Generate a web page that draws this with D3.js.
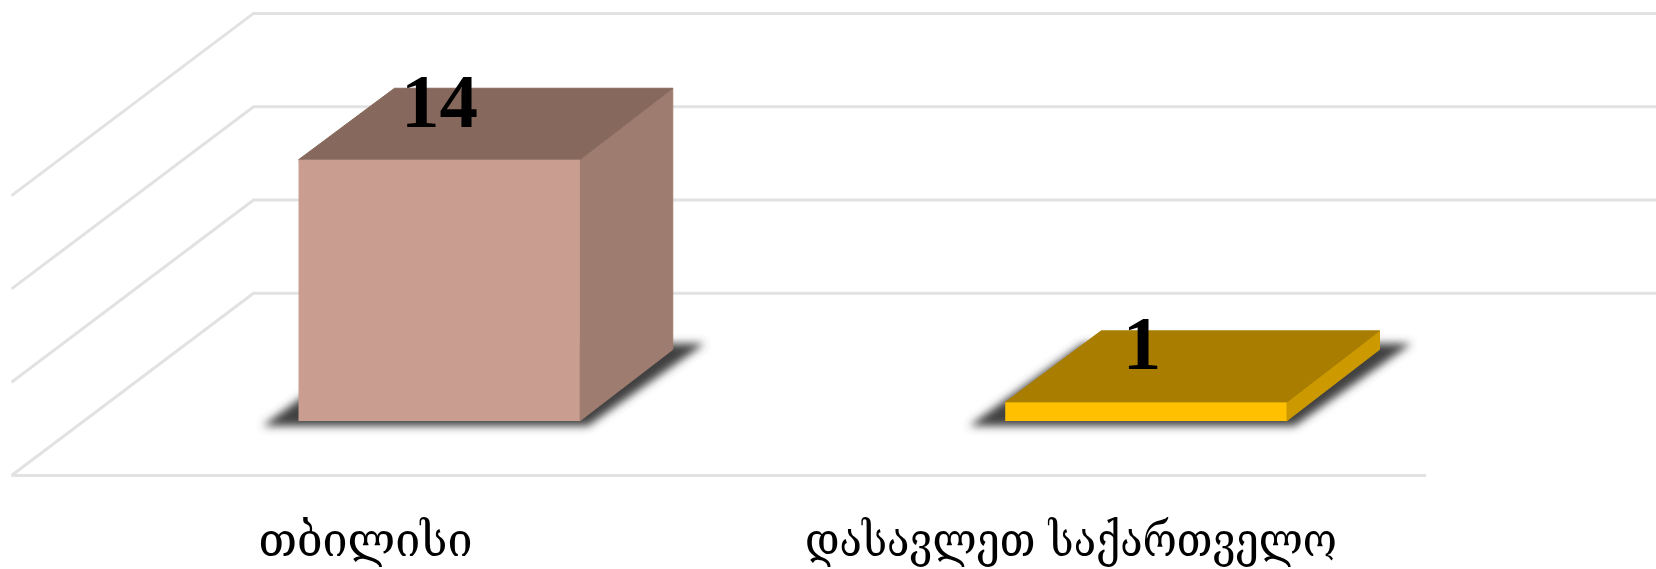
<!DOCTYPE html>
<html><head><meta charset="utf-8">
<script src="https://cdn.jsdelivr.net/npm/d3@7"></script>
<style>html,body{margin:0;padding:0;background:#fff;overflow:hidden}svg{display:block}</style>
</head><body>
<script>
const categories = ["თბილისი", "დასავლეთ საქართველო"];
const values = [14, 1];
const frontColors = ["#C99E91", "#FFC000"];
const topColors = ["#86695C", "#A97E00"];
const sideColors = ["#9F7C6F", "#CC9A00"];
const gridTicks = [0, 5, 10, 15];

const W = 1656, H = 569;
const svg = d3.select("body").append("svg").attr("width", W).attr("height", H);
const defs = svg.append("defs");
defs.append("filter").attr("id","soft").attr("x","-5%").attr("y","-5%").attr("width","110%").attr("height","110%")
  .append("feGaussianBlur").attr("stdDeviation",0.7);
defs.append("filter").attr("id","textsoft").attr("x","-5%").attr("y","-5%").attr("width","110%").attr("height","110%")
  .append("feGaussianBlur").attr("stdDeviation",0.4);
defs.append("filter").attr("id","shadow").attr("x","-10%").attr("y","-20%").attr("width","120%").attr("height","140%")
  .append("feGaussianBlur").attr("stdDeviation",4);

// Scales
const wallY = d3.scaleLinear().domain([0,15]).range([293.3,13.4]);
const heightOf = v => wallY(0) - wallY(v);
const x = d3.scaleBand().domain(categories).range([86.5,1498.5]).paddingInner(.602).paddingOuter(.3);
const floorFrontY = 475.5, floorDX = 242, floorDY = floorFrontY - wallY(0);
const leftX = 11.5, backX = leftX + floorDX, frontRight = 1426, backRight = frontRight + floorDX;
const barBase = 421, depthXL = 96, depthXR = 93, depthY = 71.5;
const line = d3.line();

// Gridlines
const grid = svg.append("g").attr("fill","none").attr("stroke","#E2E2E2").attr("stroke-width",3).attr("filter","url(#soft)");
grid.selectAll("path.wall").data(gridTicks).join("path").attr("class","wall")
  .attr("d", t => line([[leftX, wallY(t)+floorDY],[backX, wallY(t)],[backRight, wallY(t)]]));
grid.append("path").attr("d", line([[leftX, floorFrontY],[frontRight, floorFrontY]]));

// Shadows
svg.append("g").attr("filter","url(#shadow)").attr("fill","#404040").selectAll("path").data(categories).join("path")
  .attr("d", c => { const l = x(c), r = l + x.bandwidth();
    return line([[l-36, barBase+5],[r+8, barBase+5],[r+depthXR+32, barBase-depthY-6],[l+depthXL-18, barBase-depthY-6]])+"Z"; });

// Bars
const bars = svg.append("g").attr("filter","url(#soft)").selectAll("g").data(categories).join("g");
bars.append("path").attr("fill",(c,i)=>sideColors[i]).attr("stroke",(c,i)=>sideColors[i]).attr("stroke-linejoin","round")
  .attr("d",(c,i)=>{ const r=x(c)+x.bandwidth(), t=barBase-heightOf(values[i]);
    return line([[r,barBase],[r+depthXR,barBase-depthY],[r+depthXR,t-depthY],[r,t]])+"Z"; });
bars.append("path").attr("fill",(c,i)=>topColors[i]).attr("stroke",(c,i)=>topColors[i]).attr("stroke-linejoin","round")
  .attr("d",(c,i)=>{ const l=x(c), r=l+x.bandwidth(), t=barBase-heightOf(values[i]);
    return line([[l,t],[r,t],[r+depthXR,t-depthY],[l+depthXL,t-depthY]])+"Z"; });
bars.append("rect").attr("fill",(c,i)=>frontColors[i])
  .attr("x",c=>x(c)).attr("width",x.bandwidth())
  .attr("y",(c,i)=>barBase-heightOf(values[i])).attr("height",(c,i)=>heightOf(values[i]));

// Value labels
const valueCenter = [439.5, 1142];
const valueBaseline = [127, 368.5];
svg.append("g").attr("filter","url(#textsoft)").selectAll("text").data(values).join("text")
  .attr("x",(v,i)=>valueCenter[i])
  .attr("y",(v,i)=>valueBaseline[i])
  .attr("text-anchor","middle")
  .attr("font-family","'Liberation Serif',serif").attr("font-weight","bold").attr("font-size",77).attr("fill","#000")
  .text(v=>v);

// Category labels
const labelBox = [[258.5,214],[805,532]];
svg.append("g").attr("filter","url(#textsoft)").selectAll("text").data(categories).join("text")
  .attr("x",(c,i)=>labelBox[i][0]).attr("y",556)
  .attr("textLength",(c,i)=>labelBox[i][1]).attr("lengthAdjust","spacingAndGlyphs")
  .attr("font-family","'DejaVu Serif','DejaVu Sans',serif").attr("font-size",46).attr("fill","#000")
  .text(c=>c);
</script>
</body></html>
